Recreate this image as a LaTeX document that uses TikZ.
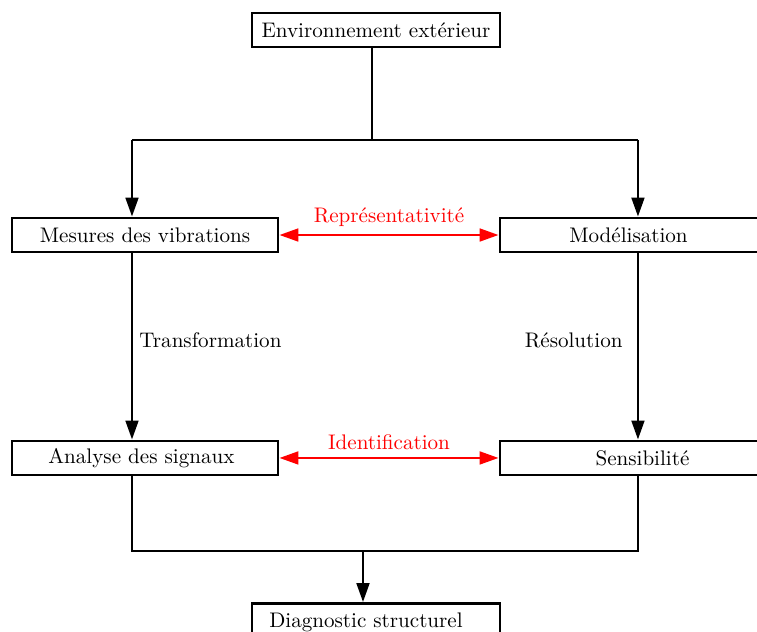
\documentclass[tikz,border=0pt]{standalone}
\usepackage{fontspec}
\usepackage{tikz}
\usetikzlibrary{arrows.meta, calc, positioning}
\definecolor{flowred}{RGB}{255,0,0}

\begin{document}
\begin{tikzpicture}[>={Triangle[length=9pt,width=6pt]}, scale=1]
    \tikzset{frame/.style={draw, line width=1.3pt, minimum height=0.567cm, inner sep=0pt},
             link/.style={line width=1.3pt},
             twoway/.style={<->, flowred, line width=1.3pt}}
    \useasboundingbox (0,0) rectangle (12.617,-10.533);

    % boxes
    \node[frame, minimum width=4.133cm] (env) at (6.267,-0.5) {};
    \node[frame, minimum width=4.433cm] (mesures) at (2.417,-3.917) {};
    \node[frame, minimum width=4.433cm] (model) at (10.55,-3.917) {};
    \node[frame, minimum width=4.433cm] (analyse) at (2.417,-7.633) {};
    \node[frame, minimum width=4.433cm] (sens) at (10.55,-7.633) {};
    \node[frame, minimum width=4.133cm] (diag) at (6.267,-10.342) {};

    \node (env-t) at (env) {Environnement extérieur};
    \node (mesures-t) at (mesures) {Mesures des vibrations};
    \node (model-t) at ($(model)+(-0.075,0)$) {Modélisation};
    \node (analyse-t) at ($(analyse)+(-0.06,0)$) {Analyse des signaux};
    \node (sens-t) at ($(sens)+(0.158,0)$) {Sensibilité};
    \node (diag-t) at ($(diag)+(-0.167,-0.03)$) {Diagnostic structurel};

    % branch points
    \coordinate (split) at (6.2,-2.333);
    \coordinate (hl) at (2.2,-2.333);
    \coordinate (hr) at (10.633,-2.333);
    \coordinate (bl) at (2.2,-9.183);
    \coordinate (br) at (10.633,-9.183);
    \coordinate (merge) at (6.05,-9.183);

    \draw [link] (split |- env.south) -- (split);
    \draw [link] (hl) -- (hr);
    \draw [link,->] (hl) -- (hl |- mesures.north);
    \draw [link,->] (hr) -- (hr |- model.north);

    \draw [link,->] (hl |- mesures.south) -- (hl |- analyse.north);
    \draw [link,->] (hr |- model.south) -- (hr |- sens.north);
    \node[right] (transf) at (2.2,-5.667) {Transformation};
    \node[left] (resol) at (10.5,-5.667) {Résolution};

    \draw [twoway] (mesures.east) -- (model.west)
        node[midway, above] (repr) {Représentativité};
    \draw [twoway] (analyse.east) -- (sens.west)
        node[midway, above] (ident) {Identification};

    \draw [link] (hl |- analyse.south) -- (bl) -- (br) -- (hr |- sens.south);
    \draw [link,->] (merge) -- (merge |- diag.north);
\end{tikzpicture}
\end{document}
